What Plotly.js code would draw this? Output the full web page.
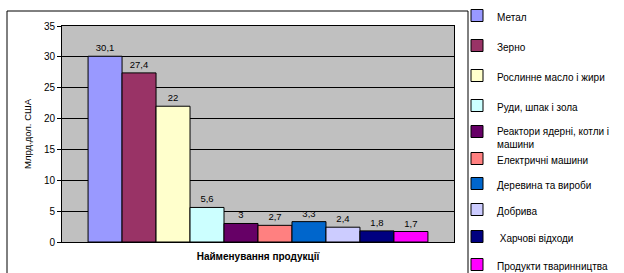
<!DOCTYPE html>
<html>
<head>
<meta charset="utf-8">
<script src="https://cdn.plot.ly/plotly-3.0.1.min.js"></script>
<style>html,body{margin:0;padding:0;background:#fff;}#chart{width:624px;height:273px;}</style>
</head>
<body>
<div id="chart"></div>
<script>
var categories = ['Метал', 'Зерно', 'Рослинне масло і жири', 'Руди, шпак і зола',
  'Реактори ядерні, котли і<br>машини', 'Електричні машини', 'Деревина та вироби',
  'Добрива', ' Харчові відходи', 'Продукти тваринництва'];
var values = [30.1, 27.4, 22, 5.6, 3, 2.7, 3.3, 2.4, 1.8, 1.7];
var colors = ['#9999FF', '#993366', '#FFFFCC', '#CCFFFF', '#660066',
  '#FF8080', '#0066CC', '#CCCCFF', '#000080', '#FF00FF'];
var yTicks = [0, 5, 10, 15, 20, 25, 30, 35];
var yTitle = 'Млрд.дол. США';
var xTitle = 'Найменування продукції';

// layout helpers (pixel -> paper)
var L = 62, R = 454, T = 26, B = 242, W = 624, H = 273;
function px(x) { return (x - L) / (R - L); }
function py(y) { return (B - y) / (B - T); }
var legendY = [17, 47, 77, 107, 138, 160, 185, 211, 238, 266];

var font = 'Liberation Sans, Arial, sans-serif';
var traces = [];
var layout = {
  width: W, height: H,
  margin: {l: L, r: W - R, t: T, b: H - B, pad: 0, autoexpand: false},
  paper_bgcolor: '#ffffff',
  plot_bgcolor: '#C0C0C0',
  font: {family: font, size: 10, color: '#000'},
  barmode: 'group',
  bargap: 0.133,
  bargroupgap: 0,
  showlegend: true,
  xaxis: {
    range: [-0.5, 0.5], showticklabels: false, showgrid: false, zeroline: false,
    showline: true, linecolor: '#000', linewidth: 1, mirror: true, fixedrange: true,
    automargin: false,
    title: {text: xTitle, font: {family: font, size: 10, color: '#000', weight: 'bold'}, standoff: 10}
  },
  yaxis: {
    range: [0, 35], tickvals: yTicks, ticktext: yTicks.map(String),
    showgrid: true, gridcolor: '#000', gridwidth: 1, zeroline: false,
    showline: true, linecolor: '#000', linewidth: 1, mirror: true,
    ticks: 'outside', ticklen: 4, tickcolor: '#000',
    tickfont: {family: font, size: 10, color: '#000'},
    automargin: false,
    title: {text: yTitle, font: {family: font, size: 9.5, color: '#000'}, standoff: 10}
  },
  shapes: [
    {type: 'line', xref: 'paper', yref: 'paper', x0: px(7), x1: px(468), y0: py(11), y1: py(11), line: {color: '#000', width: 1}},
    {type: 'line', xref: 'paper', yref: 'paper', x0: px(7), x1: px(7), y0: py(11), y1: py(273), line: {color: '#000', width: 1}},
    {type: 'line', xref: 'paper', yref: 'paper', x0: px(468), x1: px(468), y0: py(11), y1: py(273), line: {color: '#000', width: 1}}
  ]
};

for (var i = 0; i < categories.length; i++) {
  var lg = i === 0 ? 'legend' : 'legend' + (i + 1);
  traces.push({
    type: 'bar',
    name: categories[i],
    x: [0],
    y: [values[i]],
    text: [String(values[i]).replace('.', ',')],
    textposition: 'outside',
    cliponaxis: false,
    textfont: {family: font, size: 9.5, color: '#000'},
    marker: {color: colors[i], line: {color: '#000', width: 1}},
    legend: lg,
    hoverinfo: 'skip'
  });
  layout[lg] = {
    x: px(457), y: py(legendY[i]), xanchor: 'left', yanchor: 'middle',
    valign: 'top', bgcolor: 'rgba(0,0,0,0)', borderwidth: 0,
    itemwidth: 30,
    font: {family: font, size: 10, color: '#000'}
  };
}

Plotly.newPlot('chart', traces, layout, {displayModeBar: false, staticPlot: true});
</script>
</body>
</html>
